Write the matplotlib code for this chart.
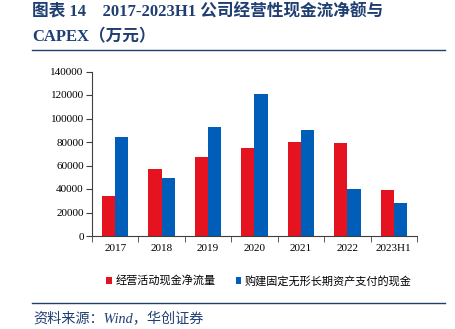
import matplotlib
matplotlib.use("Agg")
import numpy as np
import matplotlib.pyplot as plt
from matplotlib.lines import Line2D

# data (万元)
years = ["2017", "2018", "2019", "2020", "2021", "2022", "2023H1"]
op_cashflow = [34000, 57000, 67500, 75000, 79800, 78900, 38800]
capex = [84500, 49000, 93000, 121000, 89800, 39600, 27900]

series_names = ["经营活动现金净流量", "购建固定无形长期资产支付的现金"]
title_line1 = "图表 14    2017-2023H1 公司经营性现金流净额与"
title_line2 = "CAPEX（万元）"
source_text = "资料来源：Wind，华创证券"

RED = "#E5131F"
BLUE = "#005EB8"
NAVY = "#1F3F73"
SERIF_CJK = ["Liberation Serif", "Noto Sans CJK SC"]

plt.rcParams["font.family"] = SERIF_CJK

fig = plt.figure(figsize=(4.56, 3.29), dpi=100)
W, H = 456, 329

# title block
fig.text(32 / W, 1 - 12.5 / H, title_line1, fontsize=12, fontweight="bold",
         color=NAVY, va="center", ha="left")
fig.text(32 / W, 1 - 37 / H, title_line2, fontsize=12, fontweight="bold",
         color=NAVY, va="center", ha="left")
fig.add_artist(Line2D([32 / W, 445 / W], [1 - 49.5 / H, 1 - 49.5 / H],
                      color=NAVY, lw=1.0, transform=fig.transFigure))

# chart
ax = fig.add_axes([92 / W, 1 - 236 / H, (417 - 92) / W, (236 - 71.5) / H])
x = np.arange(len(years))
bw = 0.285
ax.bar(x - bw / 2, op_cashflow, bw, color=RED, label=series_names[0])
ax.bar(x + bw / 2, capex, bw, color=BLUE, label=series_names[1])

ax.set_xlim(-0.5, len(years) - 0.5)
ax.set_ylim(0, 140000)
ax.set_yticks(np.arange(0, 140001, 20000))
ax.set_yticklabels([f"{v:d}" for v in range(0, 140001, 20000)], fontsize=8)
ax.set_xticks(x)
ax.set_xticklabels(years, fontsize=8)
ax.tick_params(axis="x", length=0, pad=6)
ax.set_xticks(np.arange(-0.5, len(years)), minor=True)
ax.tick_params(axis="x", which="minor", length=4, direction="out", color="#404040")
ax.tick_params(axis="y", length=4, direction="out", color="#404040", pad=2)
for s in ["top", "right"]:
    ax.spines[s].set_visible(False)
for s in ["left", "bottom"]:
    ax.spines[s].set_color("#404040")
    ax.spines[s].set_linewidth(0.8)

leg = fig.legend(loc="center left", bbox_to_anchor=(96 / W, 1 - 281 / H), ncol=2,
                 frameon=False, prop={"family": "Noto Sans CJK SC", "size": 8},
                 handlelength=0.5, handleheight=0.5, handletextpad=0.35,
                 columnspacing=1.8)

# footer
fig.add_artist(Line2D([32 / W, 445 / W], [1 - 303 / H, 1 - 303 / H],
                      color=NAVY, lw=1.0, transform=fig.transFigure))
fig.text(33 / W, 1 - 319 / H, source_text, fontsize=10.2, style="italic",
         color=NAVY, va="center", ha="left")

fig.savefig("out.png", dpi=100)
